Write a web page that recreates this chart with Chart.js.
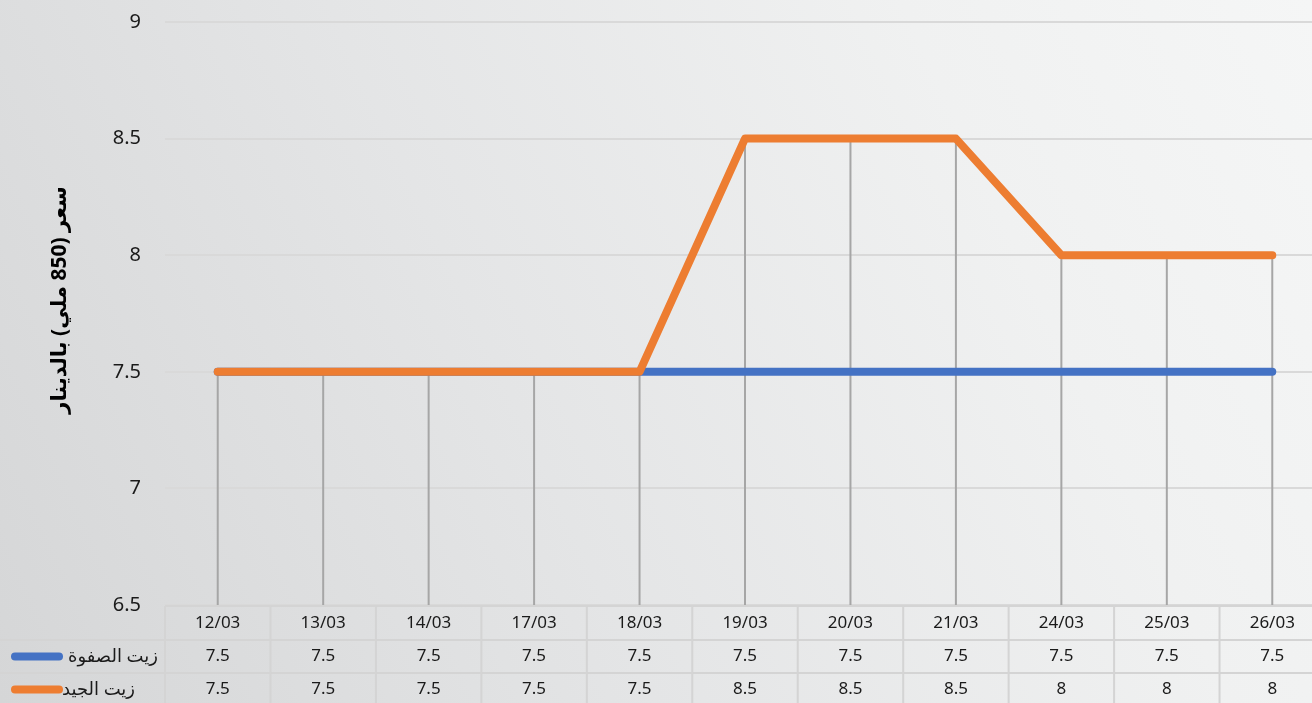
<!DOCTYPE html>
<html>
<head>
<meta charset="utf-8">
<script src="https://cdn.jsdelivr.net/npm/chart.js@4/dist/chart.umd.min.js"></script>
<style>
  html, body { margin: 0; padding: 0; overflow: hidden; }
  body {
    width: 1312px; height: 703px;
    background: linear-gradient(65deg, #d5d6d7 0%, #e4e5e6 40%, #f0f1f1 75%, #f5f6f6 100%);
  }
  #wrap { position: relative; width: 1325px; height: 703px; }
  canvas { display: block; }
</style>
</head>
<body>
<div id="wrap"><canvas id="chart" width="1325" height="703"></canvas></div>
<script>
// categories and values
const dates = ["12/03", "13/03", "14/03", "17/03", "18/03", "19/03", "20/03", "21/03", "24/03", "25/03", "26/03"];
const safwaOil = [7.5, 7.5, 7.5, 7.5, 7.5, 7.5, 7.5, 7.5, 7.5, 7.5, 7.5];
const jayedOil = [7.5, 7.5, 7.5, 7.5, 7.5, 8.5, 8.5, 8.5, 8, 8, 8];
const seriesNames = ["زيت الصفوة", "زيت الجيد"];
const seriesColors = ["#4472c4", "#ed7d31"];
const yTicks = [6.5, 7, 7.5, 8, 8.5, 9];
const yTitle = "سعر (850 ملي) بالدينار";

const TEXT = "#1a1a1a";
const FONT = "'Noto Sans', 'DejaVu Sans', sans-serif";

// vertical drop lines from the top point of each category to the axis
const dropLines = {
  id: "dropLines",
  beforeDatasetsDraw(chart) {
    const { ctx, chartArea, scales } = chart;
    ctx.save();
    ctx.strokeStyle = "#a6a6a6";
    ctx.lineWidth = 2;
    dates.forEach((d, i) => {
      const top = Math.max(...chart.data.datasets.map(ds => ds.data[i]));
      const x = scales.x.getPixelForValue(i);
      ctx.beginPath();
      ctx.moveTo(x, scales.y.getPixelForValue(top));
      ctx.lineTo(x, chartArea.bottom);
      ctx.stroke();
    });
    ctx.restore();
  }
};

// rotated axis title, placed a bit above the middle like the original
const axisTitle = {
  id: "axisTitle",
  afterDraw(chart) {
    const { ctx } = chart;
    ctx.save();
    ctx.translate(60, 300);
    ctx.rotate(-Math.PI / 2);
    ctx.fillStyle = "#000";
    ctx.font = "bold 21px " + FONT;
    ctx.textAlign = "center";
    ctx.textBaseline = "middle";
    ctx.fillText(yTitle, 0, 0);
    ctx.restore();
  }
};

// data table under the plot, with legend keys
const dataTable = {
  id: "dataTable",
  afterDraw(chart) {
    const { ctx, chartArea, scales } = chart;
    const rowTops = [chartArea.bottom + 1, 640, 673, 706];
    const colW = scales.x.getPixelForValue(1) - scales.x.getPixelForValue(0);
    ctx.save();
    ctx.strokeStyle = "#d4d4d4";
    ctx.lineWidth = 2;
    // horizontal lines
    ctx.beginPath();
    ctx.moveTo(chartArea.left, rowTops[0]);
    ctx.lineTo(chartArea.right, rowTops[0]);
    ctx.moveTo(0, rowTops[1]);
    ctx.lineTo(chartArea.right, rowTops[1]);
    ctx.moveTo(0, rowTops[2]);
    ctx.lineTo(chartArea.right, rowTops[2]);
    ctx.stroke();
    // vertical lines
    ctx.beginPath();
    for (let i = 0; i <= dates.length; i++) {
      const x = chartArea.left + i * colW;
      ctx.moveTo(x, rowTops[0]);
      ctx.lineTo(x, 703);
    }
    ctx.stroke();

    ctx.fillStyle = TEXT;
    ctx.font = "17px " + FONT;
    ctx.textAlign = "center";
    ctx.textBaseline = "middle";
    const rows = [dates, safwaOil, jayedOil];
    rows.forEach((row, r) => {
      const y = (rowTops[r] + rowTops[r + 1]) / 2;
      row.forEach((v, i) => {
        ctx.fillText(String(v), scales.x.getPixelForValue(i), y);
      });
    });

    // legend keys
    ctx.lineCap = "round";
    ctx.lineWidth = 8;
    ctx.font = "18px " + FONT;
    seriesNames.forEach((name, s) => {
      const y = (rowTops[s + 1] + rowTops[s + 2]) / 2;
      ctx.strokeStyle = seriesColors[s];
      ctx.beginPath();
      ctx.moveTo(15, y);
      ctx.lineTo(59, y);
      ctx.stroke();
      ctx.fillStyle = TEXT;
      ctx.textAlign = "left";
      ctx.fillText(name, s === 0 ? 68 : 62, y);
    });
    ctx.restore();
  }
};

new Chart(document.getElementById("chart"), {
  type: "line",
  data: {
    labels: dates,
    datasets: [
      {
        label: seriesNames[0],
        data: safwaOil,
        borderColor: seriesColors[0],
        borderWidth: 8,
        borderCapStyle: "round",
        borderJoinStyle: "round",
        pointRadius: 0,
        tension: 0,
        order: 1
      },
      {
        label: seriesNames[1],
        data: jayedOil,
        borderColor: seriesColors[1],
        borderWidth: 8,
        borderCapStyle: "round",
        borderJoinStyle: "round",
        pointRadius: 0,
        tension: 0,
        order: 0
      }
    ]
  },
  options: {
    responsive: false,
    animation: false,
    devicePixelRatio: 1,
    layout: { autoPadding: false, padding: { top: 22, bottom: 98, left: 0, right: 0 } },
    plugins: {
      legend: { display: false },
      tooltip: { enabled: false }
    },
    scales: {
      x: {
        display: false,
        offset: true
      },
      y: {
        min: 6.5,
        max: 9,
        afterBuildTicks(scale) {
          scale.ticks = yTicks.map(v => ({ value: v }));
        },
        afterFit(scale) {
          scale.width = 165;
          scale.paddingTop = 0;
          scale.paddingBottom = 0;
        },
        border: { display: false },
        grid: { color: "#d9d9d9", lineWidth: 2, drawTicks: false },
        ticks: {
          color: TEXT,
          padding: 24,
          font: { family: FONT, size: 20 },
          callback: v => String(v)
        }
      }
    }
  },
  plugins: [dropLines, axisTitle, dataTable]
});
</script>
</body>
</html>
